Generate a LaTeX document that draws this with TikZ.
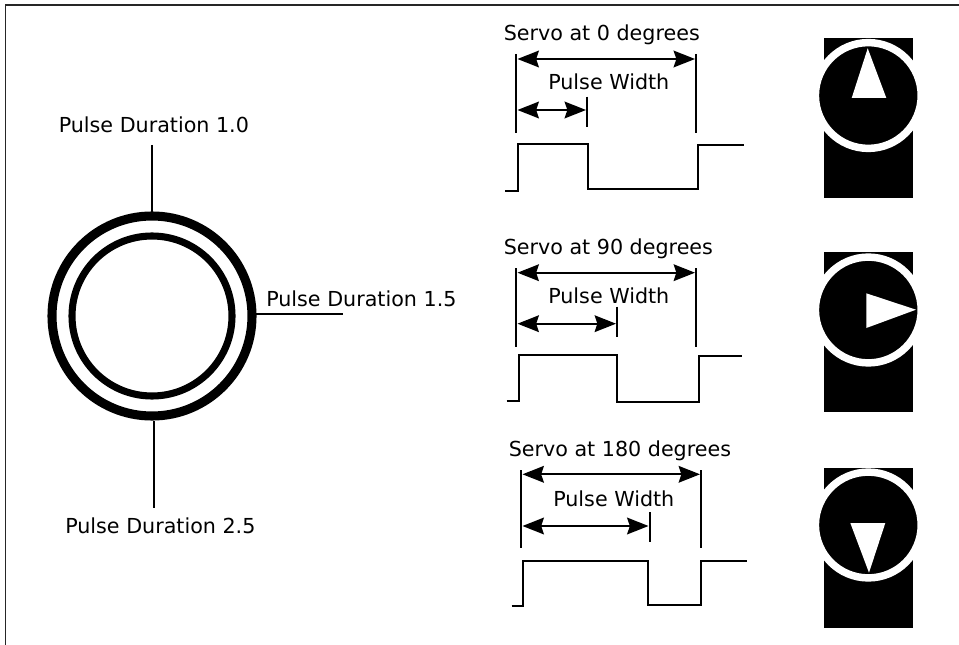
\documentclass[tikz,border=0pt]{standalone}
\usepackage{fontspec}
\setmainfont{DejaVu Sans}
\usetikzlibrary{arrows.meta}
\tikzset{
  x=0.75pt,y=-0.75pt,
  lbl/.style={anchor=base west,inner sep=0pt,yshift=-0.75pt,font=\fontsize{15.5pt}{18pt}\selectfont},
  ln/.style={draw=black,line width=1.5pt},
  wave/.style={draw=black,line width=1.7pt,line join=miter},
  span/.style={draw=black,line width=1.5pt,{Stealth[length=16pt,width=12.5pt,inset=2pt]}-{Stealth[length=16pt,width=12.5pt,inset=2pt]},shorten <=0pt,shorten >=0pt},
  frame/.style={draw=black!85,line width=1pt},
  bar/.style={fill=black},
  disc/.style={fill=black,draw=white,line width=5.6pt},
  pointer/.style={fill=white}
}
\begin{document}
\begin{tikzpicture}
\useasboundingbox (0,0) rectangle (959,645);
% frame
\draw[frame] (5.5,645) -- (5.5,5) -- (959,5);

% dial
\coordinate (c) at (152,316);
\node[draw=black,line width=6.8pt,circle,minimum size=200*0.75pt,inner sep=0pt] (outer) at (c) {};
\node[draw=black,line width=5.3pt,circle,minimum size=160*0.75pt,inner sep=0pt] (inner) at (c) {};
\node[lbl] (d10) at (58.5,131.5) {Pulse Duration 1.0};
\node[lbl] (d15) at (266,305) {Pulse Duration 1.5};
\node[lbl] (d25) at (65,532) {Pulse Duration 2.5};
\coordinate (t0) at (152,145);
\coordinate (t1) at (152,212);
\coordinate (r0) at (256,313.5);
\coordinate (r1) at (343,313.5);
\coordinate (b0) at (153.5,421);
\coordinate (b1) at (153.5,508);
\draw[ln] (t0) -- (t1);
\draw[ln] (r0) -- (r1);
\draw[ln] (b0) -- (b1);

% servo at 0
\node[lbl] (s0) at (503.5,39.5) {Servo at 0 degrees};
\node[lbl] (p0) at (548,89) {Pulse Width};
\coordinate (a0t) at (516.3,54); \coordinate (a0b) at (516.3,132.7);
\coordinate (e0t) at (696.3,54); \coordinate (e0b) at (696.3,132.7);
\coordinate (w0t) at (587.3,96.7); \coordinate (w0b) at (587.3,126.7);
\coordinate (sa0) at (517.5,59); \coordinate (sb0) at (695,59);
\coordinate (pa0) at (517.5,110); \coordinate (pb0) at (586,110);
\draw[ln] (a0t) -- (a0b);
\draw[ln] (e0t) -- (e0b);
\draw[ln] (w0t) -- (w0b);
\draw[span] (sa0) -- (sb0);
\draw[span] (pa0) -- (pb0);
\draw[wave] (505,191.3) -| (518.3,143.7) -| (587.7,189.3) -| (698,144.7) -- (744,144.7);

% servo at 90
\node[lbl] (s1) at (503.5,253) {Servo at 90 degrees};
\node[lbl] (p1) at (548,302.5) {Pulse Width};
\coordinate (a1t) at (516.3,268); \coordinate (a1b) at (516.3,346.7);
\coordinate (e1t) at (696.3,268); \coordinate (e1b) at (696.3,346.7);
\coordinate (w1t) at (617.3,306.7); \coordinate (w1b) at (617.3,337.3);
\coordinate (sa1) at (517.5,272.7); \coordinate (sb1) at (695,272.7);
\coordinate (pa1) at (517.5,323.7); \coordinate (pb1) at (616,323.7);
\draw[ln] (a1t) -- (a1b);
\draw[ln] (e1t) -- (e1b);
\draw[ln] (w1t) -- (w1b);
\draw[span] (sa1) -- (sb1);
\draw[span] (pa1) -- (pb1);
\draw[wave] (506.7,400.7) -| (518.7,355.3) -| (617,401.7) -| (699,356) -- (741.7,356);

% servo at 180
\node[lbl] (s2) at (508.5,455.5) {Servo at 180 degrees};
\node[lbl] (p2) at (553,505) {Pulse Width};
\coordinate (a2t) at (521.3,470); \coordinate (a2b) at (521.3,548.3);
\coordinate (e2t) at (701.3,470); \coordinate (e2b) at (701.3,548.3);
\coordinate (w2t) at (649.7,512.3); \coordinate (w2b) at (649.7,542.3);
\coordinate (sa2) at (522.5,474.3); \coordinate (sb2) at (700,474.3);
\coordinate (pa2) at (522.5,526); \coordinate (pb2) at (648.5,526);
\draw[ln] (a2t) -- (a2b);
\draw[ln] (e2t) -- (e2b);
\draw[ln] (w2t) -- (w2b);
\draw[span] (sa2) -- (sb2);
\draw[span] (pa2) -- (pb2);
\draw[wave] (511.7,606.3) -| (523.3,560.7) -| (648,605.3) -| (701.3,561) -- (746.7,561);

% icons
\fill[bar] (823.7,38.3) rectangle (913,197.7);
\path[disc] (868.3,95.5) circle (52.9);
\fill[pointer] (867.7,48.3) -- (851.7,98) -- (886.3,98) -- cycle;

\fill[bar] (823.7,252.3) rectangle (913,412.3);
\path[disc] (868.3,310) circle (52.9);
\fill[pointer] (866.3,293.3) -- (866.3,328) -- (916,309.7) -- cycle;

\fill[bar] (823.7,468) rectangle (913,627.7);
\path[disc] (868.3,525) circle (52.9);
\fill[pointer] (850.3,523) -- (885.3,523) -- (869,572.7) -- cycle;
\end{tikzpicture}
\end{document}
